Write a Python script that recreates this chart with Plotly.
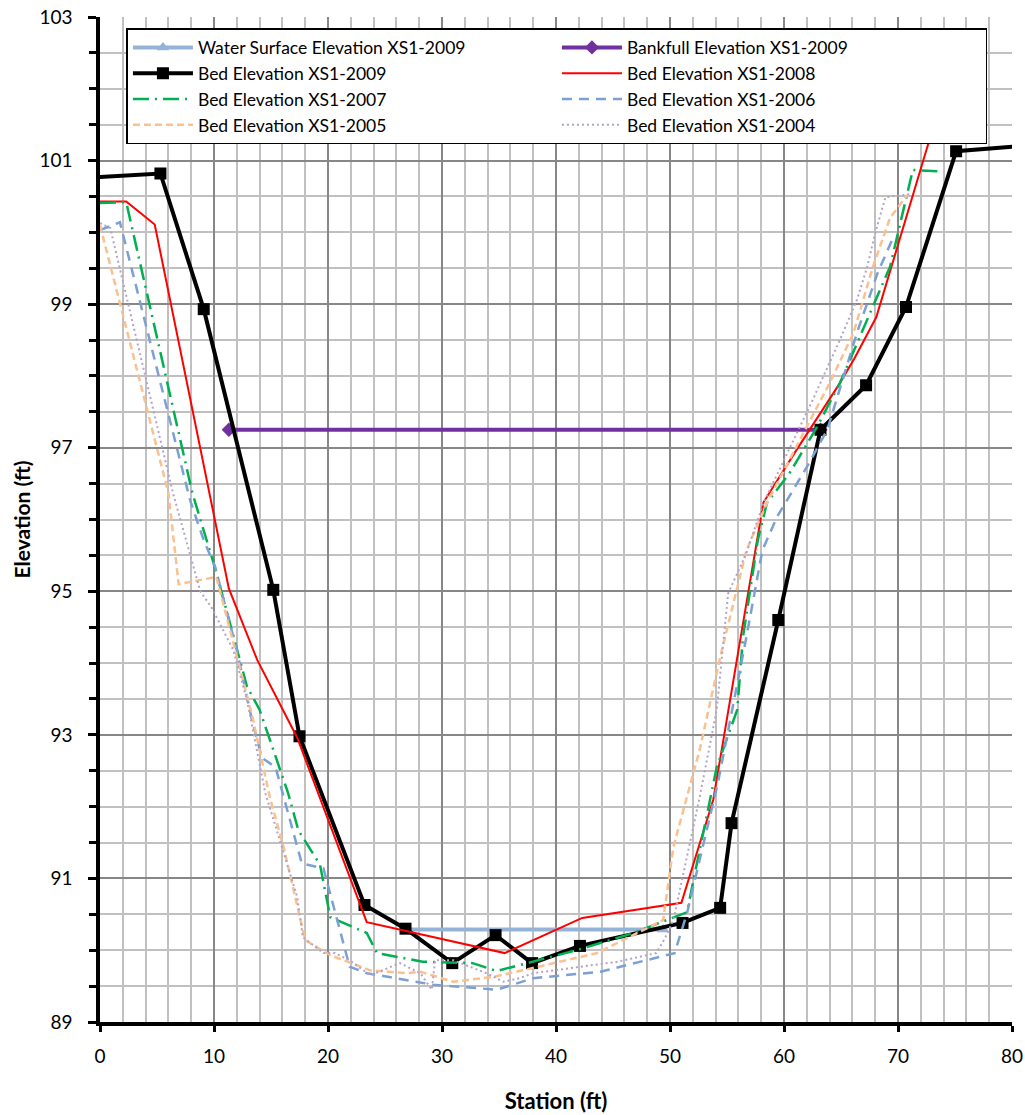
import plotly.graph_objects as go

# ---------------- data ----------------
ws_station = [26.8, 49.4]
ws_elev = [90.29, 90.29]

bf_station = [11.3, 63.2]
bf_elev = [97.25, 97.25]

bed2009_station = [-1.0, 5.3, 9.1, 15.2, 17.5, 23.2, 26.8, 30.9, 34.7, 37.9, 42.1, 51.1,
                   54.4, 55.4, 59.5, 63.2, 67.2, 70.7, 75.1, 82.0]
bed2009_elev = [100.76, 100.82, 98.93, 95.02, 92.98, 90.63, 90.30, 89.82, 90.21, 89.82, 90.06,
                90.38, 90.59, 91.77, 94.60, 97.25, 97.87, 98.96, 101.13, 101.22]

bed2008_station = [0, 2.3, 4.8, 11.3, 13.8, 17.3, 23.4, 35.5, 42.3, 51.0, 53.8, 58.2,
                   61.1, 64.9, 66.2, 68.1, 72.8, 73.4, 75.5]
bed2008_elev = [100.43, 100.43, 100.11, 95.04, 94.04, 92.96, 90.39, 89.96, 90.45, 90.66,
                92.10, 96.24, 96.97, 97.9, 98.25, 98.82, 101.31, 101.4, 102.3]

bed2007_station = [0, 2.3, 8.1, 10.1, 12.9, 14.0, 16.5, 17.4, 19.3, 20.2, 23.4, 24.3, 28.3,
                   32.7, 34.8, 36.8, 41.8, 46.8, 51.5, 52.0, 54.1, 55.9, 56.4, 57.7, 58.5,
                   60.5, 62.9, 64.9, 66.9, 69.3, 71.3, 73.5]
bed2007_elev = [100.41, 100.42, 96.37, 95.32, 93.67, 93.35, 92.19, 91.67, 91.19, 90.46, 90.24,
                89.96, 89.84, 89.82, 89.71, 89.79, 90.0, 90.24, 90.53, 90.93, 92.55, 93.35,
                94.36, 95.71, 96.23, 96.65, 97.29, 97.9, 98.64, 99.52, 100.87, 100.85]

bed2006_station = [0, 1.75, 7.9, 9.1, 10.1, 12.0, 13.3, 14.2, 15.4, 16.0, 17.7, 19.6, 21.9,
                   23.4, 29.2, 34.8, 36.6, 38.0, 43.9, 50.4, 51.5, 54.2, 56.7, 58.1, 59.4,
                   62.0, 63.8, 66.4, 68.2, 69.5]
bed2006_elev = [100.03, 100.14, 96.27, 95.71, 95.34, 94.18, 93.23, 92.68, 92.55, 92.19, 91.21,
                91.14, 89.77, 89.68, 89.52, 89.45, 89.54, 89.61, 89.7, 89.96, 90.52, 92.33,
                94.36, 95.57, 96.04, 96.73, 97.25, 98.6, 99.43, 99.9]

bed2005_station = [0, 6.0, 6.9, 10.2, 11.7, 13.4, 14.9, 16.1, 18.0, 20.2, 23.7, 26.9, 28.1,
                   31.0, 34.5, 37.1, 43.6, 49.4, 50.3, 52.6, 54.4, 56.7, 58.5, 64.0, 66.1,
                   67.8, 69.3, 70.8]
bed2005_elev = [100.1, 96.37, 95.1, 95.2, 94.28, 93.23, 92.13, 91.44, 90.14, 89.93, 89.72,
                89.68, 89.7, 89.56, 89.63, 89.72, 89.96, 90.42, 91.44, 92.79, 94.08, 95.57,
                96.23, 97.9, 98.6, 99.52, 100.2, 100.52]

bed2004_station = [0, 0.9, 6.4, 8.8, 9.8, 11.7, 12.9, 14.5, 17.3, 17.8, 19.6, 20.6, 21.9,
                   23.7, 26.3, 28.1, 29.1, 29.4, 31.0, 33.9, 35.4, 36.8, 38.0, 45.4, 48.8,
                   49.6, 50.3, 51.5, 52.6, 54.1, 54.7, 55.1, 56.7, 58.2, 62.5, 64.9, 66.4,
                   67.3, 68.0, 68.9, 71.0]
bed2004_elev = [100.13, 100.06, 96.37, 95.0, 94.77, 94.18, 93.48, 92.19, 90.74, 90.18, 89.96,
                89.96, 89.86, 89.65, 89.82, 89.68, 89.45, 89.86, 89.86, 89.68, 89.56, 89.61,
                89.68, 89.84, 89.96, 90.18, 90.42, 91.3, 92.13, 93.35, 94.36, 94.97, 95.53,
                96.23, 97.66, 98.5, 99.06, 99.52, 99.99, 100.49, 100.53]

x_tick_vals = [0, 10, 20, 30, 40, 50, 60, 70, 80]
y_tick_vals = [89, 91, 93, 95, 97, 99, 101, 103]

# ---------------- figure ----------------
fig = go.Figure()

fig.add_trace(go.Scatter(x=ws_station, y=ws_elev, mode="lines+markers",
                         name="Water Surface Elevation XS1-2009",
                         line=dict(color="#95B3D7", width=4),
                         marker=dict(symbol="triangle-up", size=11, color="#95B3D7")))
fig.add_trace(go.Scatter(x=bf_station, y=bf_elev, mode="lines+markers",
                         name="Bankfull Elevation XS1-2009",
                         line=dict(color="#7030A0", width=4),
                         marker=dict(symbol="diamond", size=11, color="#7030A0")))
fig.add_trace(go.Scatter(x=bed2009_station, y=bed2009_elev, mode="lines+markers",
                         name="Bed Elevation XS1-2009",
                         line=dict(color="#000000", width=4),
                         marker=dict(symbol="square", size=12, color="#000000")))
fig.add_trace(go.Scatter(x=bed2008_station, y=bed2008_elev, mode="lines",
                         name="Bed Elevation XS1-2008",
                         line=dict(color="#FF0000", width=2)))
fig.add_trace(go.Scatter(x=bed2007_station, y=bed2007_elev, mode="lines",
                         name="Bed Elevation XS1-2007",
                         line=dict(color="#00B050", width=2.5, dash="16px,6px,2px,6px")))
fig.add_trace(go.Scatter(x=bed2006_station, y=bed2006_elev, mode="lines",
                         name="Bed Elevation XS1-2006",
                         line=dict(color="#7BA0D4", width=2.5, dash="10px,7px")))
fig.add_trace(go.Scatter(x=bed2005_station, y=bed2005_elev, mode="lines",
                         name="Bed Elevation XS1-2005",
                         line=dict(color="#FAC090", width=2.5, dash="7px,4px")))
fig.add_trace(go.Scatter(x=bed2004_station, y=bed2004_elev, mode="lines",
                         name="Bed Elevation XS1-2004",
                         line=dict(color="#B3A2C7", width=2, dash="2px,3px")))

font_family = "Lato, 'Open Sans', sans-serif"

fig.update_layout(
    width=1025, height=1115,
    margin=dict(l=100, r=13, t=17, b=93),
    plot_bgcolor="white", paper_bgcolor="white",
    font=dict(family=font_family, color="#000000"),
    showlegend=True,
    legend=dict(
        orientation="h",
        x=0.029, y=0.989, xanchor="left", yanchor="top",
        entrywidth=354, entrywidthmode="pixels",
        itemwidth=60,
        bgcolor="white", bordercolor="#000000", borderwidth=1.5,
        font=dict(size=17.5, family=font_family, color="#000000"),
        traceorder="normal",
    ),
)

fig.update_xaxes(
    range=[0, 80], tickmode="array", tickvals=x_tick_vals,
    ticks="outside", ticklen=6, tickwidth=2.5, tickcolor="#000000",
    showline=True, linewidth=3.5, linecolor="#000000",
    showgrid=True, gridcolor="#878787", gridwidth=1.5,
    minor=dict(dtick=2, tick0=0, showgrid=True, gridcolor="#C0C0C0", gridwidth=1.5, ticks=""),
    zeroline=False, automargin=False,
    tickfont=dict(size=19, family=font_family),
    ticklabelstandoff=8,
    title=dict(text="<b>Station (ft)</b>", font=dict(size=22, family=font_family), standoff=29),
)
fig.update_yaxes(
    range=[89, 103], tickmode="array", tickvals=y_tick_vals,
    ticks="outside", ticklen=8, tickwidth=2.5, tickcolor="#000000",
    showline=True, linewidth=3.5, linecolor="#000000",
    showgrid=True, gridcolor="#878787", gridwidth=1.5,
    minor=dict(dtick=0.5, tick0=89, showgrid=True, gridcolor="#C0C0C0", gridwidth=1.5,
               ticks="outside", ticklen=7, tickwidth=2.5, tickcolor="#000000"),
    zeroline=False, automargin=False,
    tickfont=dict(size=19, family=font_family),
    ticklabelstandoff=12,
    title=dict(text="<b>Elevation (ft)</b>", font=dict(size=21, family=font_family), standoff=4),
)

fig.write_html("out.html", config={"displayModeBar": False},
               post_script="document.body.style.margin='0';document.body.style.overflow='hidden';")
